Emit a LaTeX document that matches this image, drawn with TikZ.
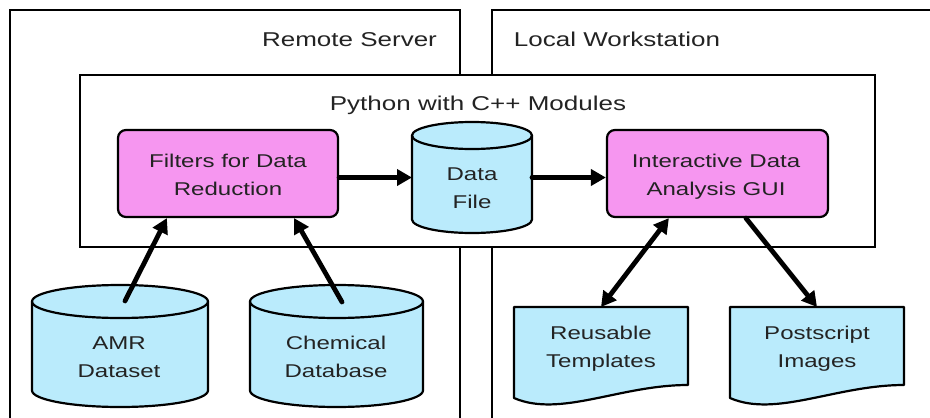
\documentclass[tikz,border=0pt]{standalone}
\usepackage{fontspec}
\setmainfont{Liberation Sans}[FakeStretch=1.3]
\usetikzlibrary{arrows.meta,calc}
\definecolor{cyanfill}{RGB}{186,235,252}
\definecolor{pinkfill}{RGB}{246,150,240}
\definecolor{txtcol}{RGB}{35,35,35}
\newcommand\drawcyl[3]{%
  \draw[shapeline, fill=cyanfill] ($(#1.north west)+(0,#3)$) -- ($(#1.south west)+(0,-#3)$)
    arc[start angle=180, end angle=360, x radius=#2pt, y radius=#3pt]
    -- ($(#1.north east)+(0,#3)$)
    arc[start angle=0, end angle=180, x radius=#2pt, y radius=#3pt] -- cycle;
  \draw[shapeline] ($(#1.north west)+(0,#3)$)
    arc[start angle=180, end angle=360, x radius=#2pt, y radius=#3pt];
}
\newcommand\drawdoc[1]{%
  \draw[shapeline, fill=cyanfill] (#1.north west) -- (#1.south west)
    .. controls ($(#1.south west)+(46,20)$) and ($(#1.south east)+(-68,-13)$) .. ($(#1.south east)+(0,-13)$)
    -- (#1.north east) -- cycle;
}
\begin{document}
\begin{tikzpicture}[x=1pt,y=-1pt,
  frame/.style={draw=black, line width=2.8pt, inner sep=0pt, fill=white},
  pybox/.style={draw=black, line width=2.8pt, inner sep=0pt, fill=white},
  shapeline/.style={draw=black, line width=2.2pt, line join=round},
  proc/.style={shapeline, fill=pinkfill, rounded corners=8pt, inner sep=0pt},
  ghost/.style={draw=none, inner sep=0pt, outer sep=0pt},
  title/.style={text=txtcol, font=\fontsize{20}{24}\selectfont, inner sep=0pt},
  boxtxt/.style={text=txtcol, font=\fontsize{18.5}{28}\selectfont, align=center, inner sep=0pt},
  arrow/.style={draw=black, line width=4.8pt, line cap=round, -{Triangle[length=15pt,width=16pt]}},
  darrow/.style={draw=black, line width=4.8pt, {Triangle[length=15pt,width=16pt]}-{Triangle[length=15pt,width=16pt]}}
]
\useasboundingbox (0,0) rectangle (930,418);
\clip (0,0) rectangle (930,418);
\fill[white] (0,0) rectangle (930,418);

% containers
\node[frame, minimum width=450pt, minimum height=440pt] (remote) at (235,230) {};
\node[frame, minimum width=460pt, minimum height=440pt] (local) at (722,230) {};
\node[title, anchor=base] (remoteT) at (349.5,46.7) {Remote Server};
\node[title, anchor=base] (localT) at (617,46.7) {Local Workstation};

\node[pybox, minimum width=795pt, minimum height=172pt] (python) at (477.5,161) {};
\node[title, anchor=base] (pythonT) at (478,110) {Python with C++ Modules};

% process boxes
\node[proc, minimum width=220pt, minimum height=87pt] (filters) at (228,173.5) {};
\node[boxtxt, anchor=base] (filtersT) at (228,195) {Filters for Data\\Reduction};
\node[proc, minimum width=221pt, minimum height=87pt] (gui) at (717.5,173.5) {};
\node[boxtxt, anchor=base] (guiT) at (716,195.5) {Interactive Data\\Analysis GUI};

% data file
\node[ghost, minimum width=120pt, minimum height=111pt] (datafile) at (472,177.5) {};
\drawcyl{datafile}{60}{13.5}
\node[boxtxt, anchor=base] (datafileT) at (472,208) {Data\\File};

% databases
\node[ghost, minimum width=176pt, minimum height=122pt] (amr) at (120,346) {};
\drawcyl{amr}{88}{16.5}
\node[boxtxt, anchor=base] (amrT) at (119,377) {AMR\\Dataset};
\node[ghost, minimum width=173pt, minimum height=122pt] (chem) at (336.5,346) {};
\drawcyl{chem}{86.5}{16.5}
\node[boxtxt, anchor=base] (chemT) at (336,377) {Chemical\\Database};

% documents
\node[ghost, minimum width=174pt, minimum height=91pt] (tmpl) at (601,352.5) {};
\drawdoc{tmpl}
\node[boxtxt, anchor=base] (tmplT) at (601,367) {Reusable\\Templates};
\node[ghost, minimum width=174pt, minimum height=91pt] (ps) at (817,352.5) {};
\drawdoc{ps}
\node[boxtxt, anchor=base] (psT) at (817,367) {Postscript\\Images};

% connectors
\coordinate (amrtop) at ($(amr.north)+(5,16)$);
\coordinate (chemtop) at ($(chem.north)+(5.5,17)$);
\draw[arrow] (filters.east |- datafile.west) -- (datafile.west);
\draw[arrow] (datafile.east) -- (gui.west |- datafile.east);
\draw[arrow] (amrtop) -- ($(filters.south west)+(50,0)$);
\draw[arrow] (chemtop) -- ($(filters.south east)+(-45,0)$);
\draw[darrow] ($(gui.south west)+(63,0)$) -- (tmpl.north);
\draw[arrow] ($(gui.south west)+(140,0)$) -- (ps.north);
\end{tikzpicture}
\end{document}
